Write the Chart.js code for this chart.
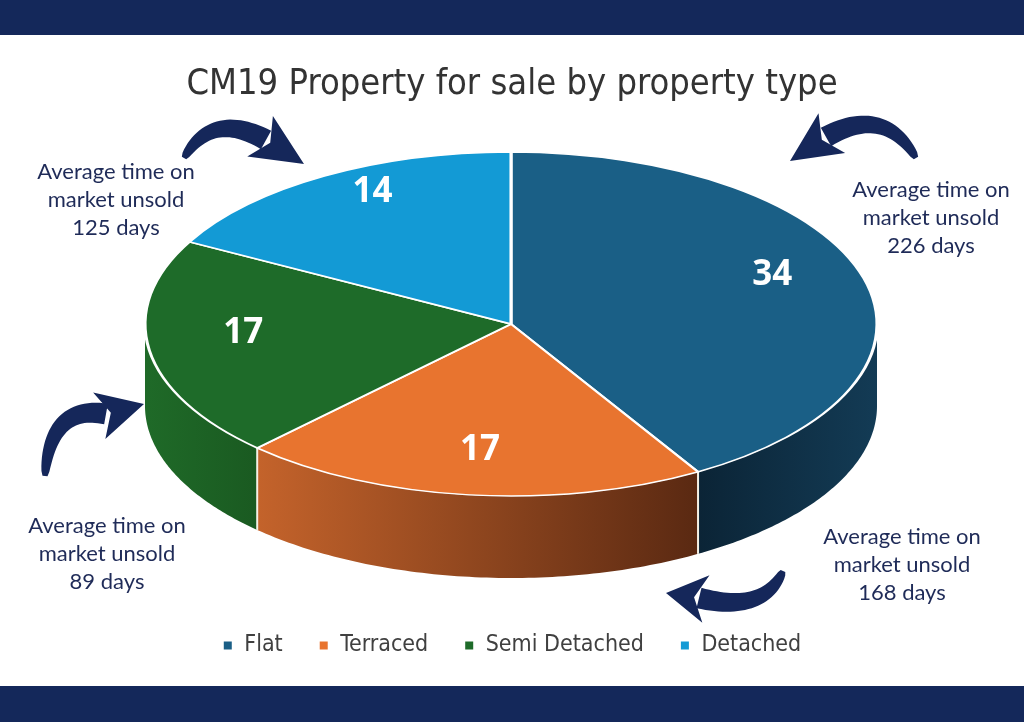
<!DOCTYPE html>
<html>
<head>
<meta charset="utf-8">
<script src="https://cdn.jsdelivr.net/npm/chart.js@4.4.1/dist/chart.umd.min.js"></script>
<style>
  html, body { margin: 0; padding: 0; background: #fff; }
  #wrap { position: relative; width: 1024px; height: 722px; overflow: hidden; }
  #wrap canvas { position: absolute; left: 0; top: 0; }
  .band { position: absolute; left: 0; width: 1024px; background: #14285a; }
  #bandTop { top: 0; height: 35px; }
  #bandBottom { top: 686px; height: 36px; }
</style>
</head>
<body>
<div id="wrap">
  <canvas id="pieChart" width="1024" height="722"></canvas>
  <div class="band" id="bandTop"></div>
  <div class="band" id="bandBottom"></div>
</div>
<script>
// --- data ---
const categories = ['Flat', 'Terraced', 'Semi Detached', 'Detached'];
const listings = [34, 17, 17, 14];
const daysUnsold = [226, 168, 89, 125];

// --- styles ---
const topColors = ['#1a5f86', '#e8742f', '#1e6b29', '#139ad5'];
// side wall gradient: [right end, left end]
const sideColors = [['#133b55', '#0b2436'], ['#5a2912', '#c4632b'], ['#1a5a21', '#1f6a28'], ['#0e6f9c', '#0e6f9c']];
const condensed = "'Liberation Sans Narrow', 'DejaVu Sans Condensed', sans-serif";
const navy = '#15275a';

// where the tilted pie sits on the page
const shape = { cx: 511, cy: 324, rx: 366, ry: 172, depth: 82 };

// note boxes next to the pie (centre x, first line y)
const notes = [
    { idx: 0, x: 931, y: 190 },
    { idx: 1, x: 902, y: 537 },
    { idx: 2, x: 107, y: 526 },
    { idx: 3, x: 116, y: 172 }
];

// curved arrows: tail, control, head base, tip
const arrows = [
    { p0: [184, 158], c: [212, 110], p1: [266, 140], tip: [304, 164] },
    { p0: [916, 158], c: [884, 104], p1: [826, 137], tip: [790, 161] },
    { p0: [45, 476], c: [50, 404], p1: [106, 414], tip: [144, 404] },
    { p0: [783, 571], c: [764, 614], p1: [699, 598], tip: [666, 593] }
];

function ellPt(a, dy) {
    return [shape.cx + shape.rx * Math.cos(a), shape.cy + shape.ry * Math.sin(a) + dy];
}

function drawArrow(ctx, a) {
    const n = 30, left = [], right = [];
    for (let k = 0; k <= n; k++) {
        const t = k / n, u = 1 - t;
        const x = u * u * a.p0[0] + 2 * u * t * a.c[0] + t * t * a.p1[0];
        const y = u * u * a.p0[1] + 2 * u * t * a.c[1] + t * t * a.p1[1];
        const dx = 2 * u * (a.c[0] - a.p0[0]) + 2 * t * (a.p1[0] - a.c[0]);
        const dy = 2 * u * (a.c[1] - a.p0[1]) + 2 * t * (a.p1[1] - a.c[1]);
        const len = Math.hypot(dx, dy) || 1;
        const w = 2.5 + 8 * Math.sqrt(t);
        left.push([x - dy / len * w, y + dx / len * w]);
        right.push([x + dy / len * w, y - dx / len * w]);
    }
    ctx.save();
    ctx.fillStyle = navy;
    ctx.beginPath();
    left.forEach((p, i) => i ? ctx.lineTo(p[0], p[1]) : ctx.moveTo(p[0], p[1]));
    for (let i = right.length - 1; i >= 0; i--) ctx.lineTo(right[i][0], right[i][1]);
    ctx.closePath();
    ctx.fill();
    // head
    const hx = a.tip[0] - a.p1[0], hy = a.tip[1] - a.p1[1];
    const hl = Math.hypot(hx, hy);
    const nx = -hy / hl, ny = hx / hl;
    const back = 7;
    ctx.beginPath();
    ctx.moveTo(a.tip[0], a.tip[1]);
    ctx.lineTo(a.p1[0] + nx * 24 - hx / hl * back, a.p1[1] + ny * 24 - hy / hl * back);
    ctx.lineTo(a.p1[0] + hx / hl * 5, a.p1[1] + hy / hl * 5);
    ctx.lineTo(a.p1[0] - nx * 24 - hx / hl * back, a.p1[1] - ny * 24 - hy / hl * back);
    ctx.closePath();
    ctx.fill();
    ctx.restore();
}

// tilts the library's pie into an ellipse and adds a side wall
const pie3d = {
    id: 'pie3d',
    beforeDatasetsDraw(chart) {
        const ctx = chart.ctx;
        const meta = chart.getDatasetMeta(0);
        const d = shape.depth;
        meta.data.forEach((arc, i) => {
            const a1 = Math.max(arc.startAngle, 0);
            const a2 = Math.min(arc.endAngle, Math.PI);
            if (a2 <= a1) return;
            const n = 80;
            ctx.beginPath();
            for (let k = 0; k <= n; k++) {
                const p = ellPt(a1 + (a2 - a1) * k / n, 0);
                k ? ctx.lineTo(p[0], p[1]) : ctx.moveTo(p[0], p[1]);
            }
            for (let k = n; k >= 0; k--) {
                const p = ellPt(a1 + (a2 - a1) * k / n, d);
                ctx.lineTo(p[0], p[1]);
            }
            ctx.closePath();
            const xa = ellPt(a1, 0)[0], xb = ellPt(a2, 0)[0];
            const g = ctx.createLinearGradient(Math.max(xa, xb), 0, Math.min(xa, xb), 0);
            g.addColorStop(0, sideColors[i][0]);
            g.addColorStop(1, sideColors[i][1]);
            ctx.fillStyle = g;
            ctx.fill();
        });
        // seams on the side wall
        ctx.save();
        ctx.strokeStyle = '#f4f1e6';
        ctx.lineWidth = 2;
        meta.data.forEach(arc => {
            const a = arc.startAngle;
            if (a > 0 && a < Math.PI) {
                const p = ellPt(a, 0);
                ctx.beginPath();
                ctx.moveTo(p[0], p[1]);
                ctx.lineTo(p[0], p[1] + d);
                ctx.stroke();
            }
        });
        ctx.restore();

        const a0 = meta.data[0];
        ctx.save();
        ctx.translate(shape.cx, shape.cy);
        ctx.scale(shape.rx / a0.outerRadius, shape.ry / a0.outerRadius);
        ctx.translate(-a0.x, -a0.y);
    },
    afterDatasetsDraw(chart) {
        chart.ctx.restore();
    },
    afterDraw(chart) {
        const ctx = chart.ctx;
        const meta = chart.getDatasetMeta(0);
        // values on the slices
        ctx.save();
        ctx.fillStyle = '#ffffff';
        ctx.font = "bold 35px 'Open Sans', sans-serif";
        ctx.textAlign = 'center';
        ctx.textBaseline = 'middle';
        meta.data.forEach((arc, i) => {
            const mid = (arc.startAngle + arc.endAngle) / 2;
            const f = 0.74;
            const x = shape.cx + f * shape.rx * Math.cos(mid);
            const y = shape.cy + f * shape.ry * Math.sin(mid) - (1 - Math.sin(mid)) * 12;
            ctx.fillText(String(listings[i]), x, y);
        });
        // notes
        ctx.fillStyle = '#1f2b58';
        ctx.font = "22px Lato, sans-serif";
        notes.forEach(n => {
            const lines = ['Average time on', 'market unsold', daysUnsold[n.idx] + ' days'];
            lines.forEach((t, k) => ctx.fillText(t, n.x, n.y + k * 28));
        });
        ctx.restore();
        arrows.forEach(a => drawArrow(ctx, a));
    }
};

const ctx = document.getElementById('pieChart').getContext('2d');
const myChart = new Chart(ctx, {
    type: 'pie',
    data: {
        labels: categories,
        datasets: [{
            data: listings,
            backgroundColor: topColors,
            borderColor: '#ffffff',
            borderWidth: 2,
            clip: false
        }]
    },
    options: {
        responsive: false,
        animation: false,
        devicePixelRatio: 1,
        layout: { padding: { top: 0, bottom: 55, left: 0, right: 0 } },
        plugins: {
            title: {
                display: true,
                text: 'CM19 Property for sale by property type',
                color: '#333333',
                font: { family: condensed, size: 36, weight: 'normal' },
                padding: { top: 63, bottom: 20 }
            },
            legend: {
                position: 'bottom',
                labels: {
                    boxWidth: 10,
                    boxHeight: 10,
                    padding: 36,
                    color: '#404040',
                    font: { family: condensed, size: 23 }
                }
            },
            tooltip: { enabled: false }
        },
        events: []
    },
    plugins: [pie3d]
});
</script>
</body>
</html>
